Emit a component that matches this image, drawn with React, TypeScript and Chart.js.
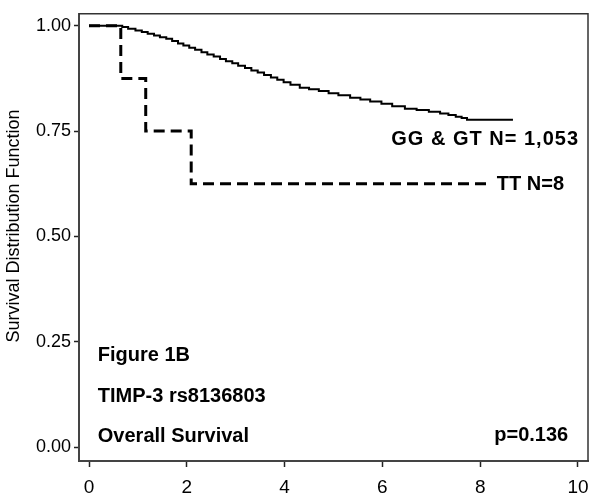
import React, { useEffect, useRef } from "react";
import { Chart, registerables } from "chart.js";

Chart.register(...registerables);

// GG & GT (N = 1,053) Kaplan-Meier estimate
const ggTimes = [0, 0.68, 0.8, 0.95, 1.08, 1.2, 1.33, 1.45, 1.58, 1.7, 1.82, 1.93, 2.05, 2.17, 2.3, 2.42, 2.55, 2.68, 2.8, 2.93, 3.05, 3.19, 3.32, 3.45, 3.58, 3.72, 3.85, 3.98, 4.12, 4.31, 4.5, 4.7, 4.9, 5.1, 5.34, 5.55, 5.75, 5.98, 6.2, 6.46, 6.7, 6.95, 7.18, 7.35, 7.5, 7.62, 7.73, 8.67];
const ggSurv = [1.0, 0.997, 0.993, 0.989, 0.985, 0.981, 0.977, 0.973, 0.969, 0.964, 0.958, 0.953, 0.948, 0.943, 0.937, 0.932, 0.927, 0.921, 0.916, 0.911, 0.905, 0.9, 0.894, 0.889, 0.883, 0.877, 0.872, 0.866, 0.86, 0.853, 0.849, 0.845, 0.84, 0.835, 0.829, 0.825, 0.82, 0.815, 0.809, 0.803, 0.8, 0.796, 0.792, 0.788, 0.784, 0.781, 0.777, 0.777];

// TT (N = 8)
const ttTimes = [0, 0.65, 1.16, 2.09, 8.16];
const ttSurv = [1.0, 0.875, 0.75, 0.625, 0.625];

const xTicks = [0, 2, 4, 6, 8, 10];
const yTicks = [0, 0.25, 0.5, 0.75, 1.0];

const yTitle = "Survival Distribution Function";
const ggLabel = "GG & GT N= 1,053";
const ttLabel = "TT N=8";
const captionLines = ["Figure 1B", "TIMP-3 rs8136803", "Overall Survival"];
const pLabel = "p=0.136";

const FONT = "'Liberation Sans', Arial, Helvetica, sans-serif";

export default function App() {
  const ref = useRef<HTMLCanvasElement | null>(null);

  useEffect(() => {
    document.body.style.margin = "0";
    const canvas = ref.current;
    if (!canvas) return;

    const textPlugin = {
      id: "annotText",
      afterDatasetsDraw(chart: any) {
        const ctx = chart.ctx;
        const xs = chart.scales.x;
        const ys = chart.scales.y;
        const area = chart.chartArea;
        ctx.save();
        // top and right frame
        ctx.strokeStyle = "#333";
        ctx.lineWidth = 1.5;
        ctx.beginPath();
        ctx.moveTo(area.left, area.top);
        ctx.lineTo(area.right, area.top);
        ctx.lineTo(area.right, area.bottom);
        ctx.stroke();

        // y axis title
        ctx.save();
        ctx.translate(14, 226);
        ctx.rotate(-Math.PI / 2);
        ctx.fillStyle = "#000";
        ctx.font = `18px ${FONT}`;
        ctx.textAlign = "center";
        ctx.textBaseline = "middle";
        ctx.fillText(yTitle, 0, 0);
        ctx.restore();

        ctx.fillStyle = "#000";
        ctx.font = `bold 20px ${FONT}`;
        ctx.textBaseline = "middle";
        ctx.textAlign = "right";
        (ctx as any).letterSpacing = "1px";
        ctx.fillText(ggLabel, xs.getPixelForValue(10.0) + 1, ys.getPixelForValue(0.73));
        (ctx as any).letterSpacing = "0px";
        ctx.textAlign = "left";
        ctx.fillText(ttLabel, xs.getPixelForValue(8.34), ys.getPixelForValue(0.623));
        const capY = [0.218, 0.119, 0.024];
        captionLines.forEach((t, i) => {
          ctx.fillText(t, xs.getPixelForValue(0.18), ys.getPixelForValue(capY[i]));
        });
        ctx.textAlign = "right";
        ctx.fillText(pLabel, xs.getPixelForValue(9.8), ys.getPixelForValue(0.028));
        ctx.restore();
      },
    };

    const chart = new Chart(canvas, {
      type: "line",
      data: {
        datasets: [
          {
            label: "GG & GT",
            data: ggTimes.map((t, i) => ({ x: t, y: ggSurv[i] })),
            borderColor: "#000",
            borderWidth: 2,
            pointRadius: 0,
            stepped: true,
            fill: false,
          },
          {
            label: "TT",
            data: ttTimes.map((t, i) => ({ x: t, y: ttSurv[i] })),
            borderColor: "#000",
            borderWidth: 3,
            borderDash: [11, 6],
            pointRadius: 0,
            stepped: true,
            fill: false,
          },
        ],
      },
      options: {
        responsive: false,
        animation: false,
        layout: { padding: { top: 13, right: 12, left: 0, bottom: 0 } },
        plugins: { legend: { display: false }, tooltip: { enabled: false } },
        scales: {
          x: {
            type: "linear",
            min: -0.2045,
            max: 10.2045,
            afterBuildTicks: (s: any) => {
              s.ticks = xTicks.map((v) => ({ value: v }));
            },
            afterFit: (s: any) => {
              s.height = 42;
            },
            ticks: {
              color: "#000",
              font: { family: FONT, size: 19 },
              padding: 9,
              maxRotation: 0,
              callback: (v: any) => String(v),
            },
            grid: {
              display: true,
              drawOnChartArea: false,
              drawTicks: true,
              tickLength: 6,
              tickColor: "#222",
              tickWidth: 1.5,
            },
            border: { display: true, color: "#444", width: 2 },
          },
          y: {
            type: "linear",
            min: -0.0332,
            max: 1.0284,
            afterBuildTicks: (s: any) => {
              s.ticks = yTicks.map((v) => ({ value: v }));
            },
            afterFit: (s: any) => {
              s.width = 79;
            },
            ticks: {
              color: "#000",
              font: { family: FONT, size: 18 },
              padding: 3,
              callback: (v: any) => Number(v).toFixed(2),
            },
            grid: {
              display: true,
              drawOnChartArea: false,
              drawTicks: true,
              tickLength: 5,
              tickColor: "#222",
              tickWidth: 1.5,
            },
            border: { display: true, color: "#444", width: 2 },
            title: { display: false },
          },
        },
      },
      plugins: [textPlugin],
    });

    return () => chart.destroy();
  }, []);

  return (
    <div style={{ position: "absolute", left: 0, top: 0, width: 600, height: 503, background: "#fff" }}>
      <canvas ref={ref} width={600} height={503} />
    </div>
  );
}
